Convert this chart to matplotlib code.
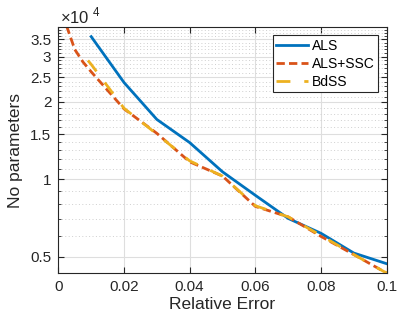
import matplotlib
matplotlib.use("Agg")
import matplotlib.pyplot as plt
import numpy as np
from matplotlib.ticker import FixedLocator, NullFormatter

plt.rcParams['font.family'] = ['Liberation Sans', 'DejaVu Sans']
plt.rcParams['mathtext.fontset'] = 'custom'
plt.rcParams['mathtext.rm'] = 'Liberation Sans'

# data
x_als = [0.01, 0.02, 0.03, 0.04, 0.05, 0.06, 0.07, 0.08, 0.09, 0.10]
y_als = [35900, 23800, 17100, 13900, 10700, 8670, 7050, 6170, 5170, 4700]

x_ssc = [0.0025, 0.005, 0.0075, 0.01, 0.02, 0.03, 0.04, 0.05, 0.06, 0.07, 0.08, 0.09, 0.10]
y_ssc = [39500, 32000, 28600, 26200, 18800, 15100, 11700, 10300, 7850, 7150, 6000, 5100, 4320]

x_bdss = [0.009, 0.01, 0.02, 0.03, 0.04, 0.05, 0.06, 0.07, 0.08, 0.09, 0.10]
y_bdss = [29000, 28000, 18900, 15000, 11800, 10300, 7900, 7150, 6050, 5100, 4320]

yticks = [5000, 10000, 15000, 20000, 25000, 30000, 35000]
ytick_labels = ['0.5', '1', '1.5', '2', '2.5', '3', '3.5']
xticks = [0, 0.02, 0.04, 0.06, 0.08, 0.1]
xtick_labels = ['0', '0.02', '0.04', '0.06', '0.08', '0.1']

fig = plt.figure(figsize=(3.97, 3.19), dpi=100)
ax = fig.add_axes([0.147, 0.143, 0.827, 0.773])

ax.plot(x_als, y_als, color='#0072BD', lw=2, label='ALS')
ax.plot(x_ssc, y_ssc, color='#D95319', lw=2, ls=(0, (3, 1.5)), label='ALS+SSC')
ax.plot(x_bdss, y_bdss, color='#EDB120', lw=2, ls=(0, (5, 5)), label='BdSS')

ax.set_yscale('log')
ax.set_xlim(0, 0.1)
ax.set_ylim(4310, 39200)
ax.yaxis.set_major_locator(FixedLocator(yticks))
ax.set_yticklabels(ytick_labels)
minor = [v for v in range(5000, 40000, 1000) if v not in yticks]
ax.yaxis.set_minor_locator(FixedLocator(minor))
ax.yaxis.set_minor_formatter(NullFormatter())
ax.set_xticks(xticks)
ax.set_xticklabels(xtick_labels)

ax.grid(True, which='major', color='#dedede', lw=0.8)
ax.grid(True, which='minor', axis='y', color='#cfcfcf', lw=0.7, ls=(0, (1, 2.5)))
ax.set_axisbelow(True)

ax.tick_params(which='both', direction='in', top=True, right=True, labelsize=11, colors='#262626')
ax.tick_params(which='major', length=4, pad=5)
ax.tick_params(which='minor', length=2)
for s in ax.spines.values():
    s.set_color('#262626')
    s.set_linewidth(0.8)

ax.set_xlabel('Relative Error', fontsize=12.5, color='#262626', labelpad=2)
ax.set_ylabel('No parameters', fontsize=12.5, color='#262626', labelpad=5)

fig.text(0.151, 0.927, r'$\times10^{\ 4}$', fontsize=12, color='#262626', ha='left', va='baseline')

leg = ax.legend(loc='upper right', fontsize=10, frameon=True, fancybox=False,
                edgecolor='#262626', framealpha=1, handlelength=2.3, handletextpad=0.3,
                borderaxespad=0.6, labelspacing=0.3, borderpad=0.25)
leg.get_frame().set_linewidth(0.8)

fig.savefig('out.png', dpi=100)
